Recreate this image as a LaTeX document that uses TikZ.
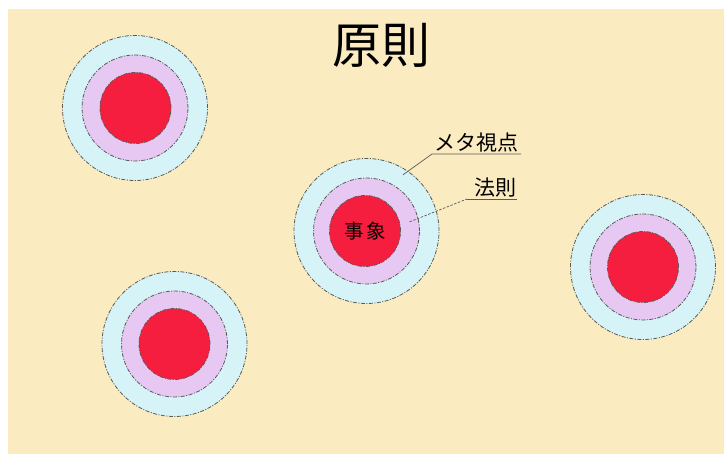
\documentclass[tikz,border=0pt]{standalone}
\usepackage{fontspec}
\newfontfamily\jp{Noto Sans CJK JP}
\newfontfamily\jpw[LetterSpace=12]{Noto Sans CJK JP}
\definecolor{bgbeige}{RGB}{250,235,192}
\definecolor{ringcyan}{RGB}{214,243,247}
\definecolor{ringlav}{RGB}{231,200,243}
\definecolor{corered}{RGB}{245,30,63}
\definecolor{edgegray}{RGB}{90,90,85}
\tikzset{
  ringbase/.style={circle, inner sep=0pt, draw=edgegray, line width=0.8pt, dash pattern=on 4pt off 1.5pt on 1pt off 1.5pt},
  outerring/.style={ringbase, fill=ringcyan, minimum size=145pt},
  midring/.style={ringbase, fill=ringlav, minimum size=106pt},
  corering/.style={ringbase, fill=corered, minimum size=71pt, font=\jpw\fontsize{19.5}{19.5}\selectfont},
  lbl/.style={inner xsep=0pt, inner ysep=1.5pt, anchor=south west, font=\jp\fontsize{21}{21}\selectfont},
  leader/.style={draw=edgegray, line width=0.7pt},
}
\begin{document}
\begin{tikzpicture}[x=1pt,y=-1pt]
\fill[white] (0,0) rectangle (724,454);
\fill[bgbeige] (8,9) rectangle (724,454);
\useasboundingbox (0,0) rectangle (724,454);
\node[font=\jp\fontsize{49}{49}\selectfont] (title) at (381,45) {原則};
% top-left
\node[outerring] (a1) at (135,108) {};
\node[midring] (a2) at (135,108) {};
\node[corering] (a3) at (135.5,108) {};
% center
\node[outerring] (b1) at (366.5,231) {};
\node[midring] (b2) at (366.5,231) {};
\node[corering] (b3) at (365,231) {事象};
% right
\node[outerring] (c1) at (643,267) {};
\node[midring] (c2) at (643,267) {};
\node[corering] (c3) at (643,267) {};
% bottom-left
\node[outerring] (d1) at (174.5,344) {};
\node[midring] (d2) at (174.5,344) {};
\node[corering] (d3) at (174.5,344) {};
% labels
\node[lbl] (meta) at (434,154) {メタ視点};
\node[lbl] (law) at (474,199) {法則};
\coordinate (metaL) at (432,154);
\coordinate (metaR) at (521,154);
\coordinate (lawL) at (467,199);
\coordinate (lawR) at (517,199);
\path (b1.center) ++(57:67pt) coordinate (pm);
\path (b1.center) ++(12:44pt) coordinate (pl);
\draw[leader] (pm) -- (metaL) -- (metaR);
\draw[leader, dash pattern=on 2.5pt off 1.5pt] (pl) -- (lawL);
\draw[leader] (lawL) -- (lawR);
\end{tikzpicture}
\end{document}
